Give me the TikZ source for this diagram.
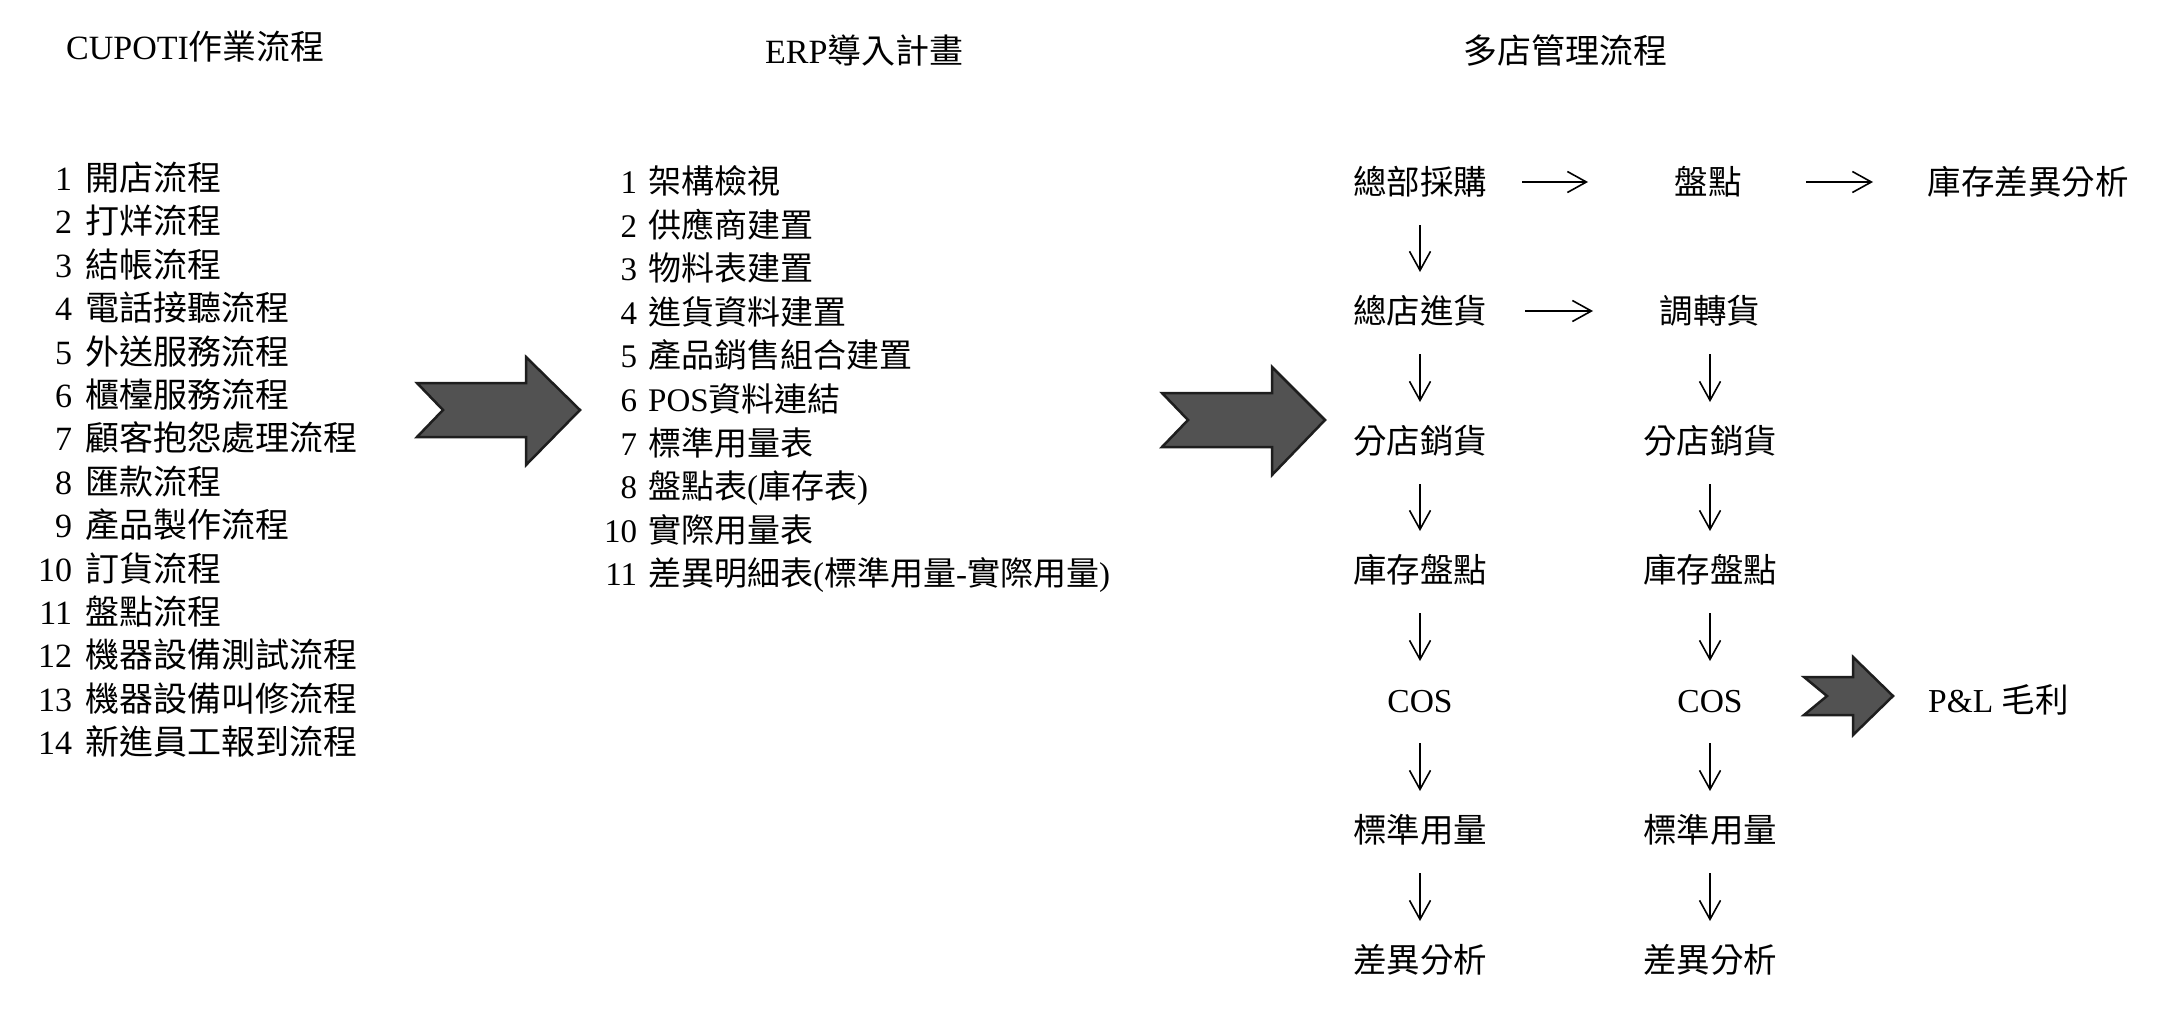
\documentclass[tikz,border=0pt]{standalone}
\usepackage{fontspec}
\setmainfont{Liberation Serif}
\newfontfamily\cj{Noto Sans CJK TC}
\usetikzlibrary{arrows.meta,calc}
\begin{document}
\begin{tikzpicture}[x=1pt,y=-1pt,
  txt/.style={inner sep=0pt, text height=30pt, text depth=5pt, font=\fontsize{34}{40}\selectfont},
  erp/.style={txt, anchor=west, font=\fontsize{33}{40}\selectfont},
  lst/.style={txt, anchor=west},
  rt/.style={txt, font=\fontsize{33.5}{40}\selectfont},
  arr/.style={line width=1.6pt, -{Straight Barb[length=19pt,width=21pt,line width=1.6pt]}},
  bigarrow/.style={draw={rgb,255:red,30;green,30;blue,30}, line width=2.5pt, line join=miter,
    fill={rgb,255:red,82;green,82;blue,82}}]
\fill[white] (0,0) rectangle (2160,1009);
\useasboundingbox (0,0) rectangle (2160,1009);

% headings
\node[txt, anchor=west] (h1) at (66,47) {CUPOTI{\cj 作業流程}};
\node[txt, anchor=west] (h2) at (765,51) {ERP{\cj 導入計畫}};
\node[txt, anchor=west] (h3) at (1463,51) {\cj 多店管理流程};

% left list
\node[lst] (L1)  at (85,178.0) {\llap{1\hspace{13pt}}{\cj 開店流程}};
\node[lst] (L2)  at (85,221.4) {\llap{2\hspace{13pt}}{\cj 打烊流程}};
\node[lst] (L3)  at (85,264.8) {\llap{3\hspace{13pt}}{\cj 結帳流程}};
\node[lst] (L4)  at (85,308.2) {\llap{4\hspace{13pt}}{\cj 電話接聽流程}};
\node[lst] (L5)  at (85,351.6) {\llap{5\hspace{13pt}}{\cj 外送服務流程}};
\node[lst] (L6)  at (85,395.0) {\llap{6\hspace{13pt}}{\cj 櫃檯服務流程}};
\node[lst] (L7)  at (85,438.4) {\llap{7\hspace{13pt}}{\cj 顧客抱怨處理流程}};
\node[lst] (L8)  at (85,481.8) {\llap{8\hspace{13pt}}{\cj 匯款流程}};
\node[lst] (L9)  at (85,525.2) {\llap{9\hspace{13pt}}{\cj 產品製作流程}};
\node[lst] (L10) at (85,568.6) {\llap{10\hspace{13pt}}{\cj 訂貨流程}};
\node[lst] (L11) at (85,612.0) {\llap{11\hspace{13pt}}{\cj 盤點流程}};
\node[lst] (L12) at (85,655.4) {\llap{12\hspace{13pt}}{\cj 機器設備測試流程}};
\node[lst] (L13) at (85,698.8) {\llap{13\hspace{13pt}}{\cj 機器設備叫修流程}};
\node[lst] (L14) at (85,742.2) {\llap{14\hspace{13pt}}{\cj 新進員工報到流程}};

% ERP list
\node[erp] (E1)  at (648,181.0) {\llap{1\hspace{11pt}}{\cj 架構檢視}};
\node[erp] (E2)  at (648,224.6) {\llap{2\hspace{11pt}}{\cj 供應商建置}};
\node[erp] (E3)  at (648,268.2) {\llap{3\hspace{11pt}}{\cj 物料表建置}};
\node[erp] (E4)  at (648,311.8) {\llap{4\hspace{11pt}}{\cj 進貨資料建置}};
\node[erp] (E5)  at (648,355.4) {\llap{5\hspace{11pt}}{\cj 產品銷售組合建置}};
\node[erp] (E6)  at (648,399.0) {\llap{6\hspace{11pt}}POS{\cj 資料連結}};
\node[erp] (E7)  at (648,442.6) {\llap{7\hspace{11pt}}{\cj 標準用量表}};
\node[erp] (E8)  at (648,486.2) {\llap{8\hspace{11pt}}{\cj 盤點表}({\cj 庫存表})};
\node[erp] (E10) at (648,529.8) {\llap{10\hspace{11pt}}{\cj 實際用量表}};
\node[erp] (E11) at (648,573.4) {\llap{11\hspace{11pt}}{\cj 差異明細表}({\cj 標準用量}-{\cj 實際用量})};

% big arrows
\draw[bigarrow] (417,383) -- (526,383) -- (526,357) -- (580,410) -- (526,465) -- (526,437) -- (417,437) -- (443,410) -- cycle;
\draw[bigarrow] (1162,393) -- (1272,393) -- (1272,367) -- (1325,420) -- (1272,475) -- (1272,447) -- (1162,447) -- (1188,420) -- cycle;
\draw[bigarrow] (1804,677) -- (1853,677) -- (1853,657) -- (1893,696) -- (1853,735) -- (1853,715) -- (1804,715) -- (1827,696) -- cycle;

% multi-store flow
\node[rt] (hq) at (1420,182) {\cj 總部採購};
\node[rt] (pd) at (1708,182) {\cj 盤點};
\node[rt] (kc) at (2028,182) {\cj 庫存差異分析};
\node[rt] (zd) at (1420,311) {\cj 總店進貨};
\node[rt] (dz) at (1710,311) {\cj 調轉貨};
\node[rt] (fa) at (1420,441) {\cj 分店銷貨};
\node[rt] (fb) at (1710,441) {\cj 分店銷貨};
\node[rt] (ka) at (1420,570) {\cj 庫存盤點};
\node[rt] (kb) at (1710,570) {\cj 庫存盤點};
\node[rt] (ca) at (1420,700) {COS};
\node[rt] (cb) at (1710,700) {COS};
\node[rt] (sa) at (1420,830) {\cj 標準用量};
\node[rt] (sb) at (1710,830) {\cj 標準用量};
\node[rt] (da) at (1420,960) {\cj 差異分析};
\node[rt] (db) at (1710,960) {\cj 差異分析};
\node[rt, anchor=west] (pl) at (1928,700) {P\&L {\cj 毛利}};

% horizontal arrows
\draw[arr] ($(hq.center)+(102,0)$) -- ($(pd.center)+(-120,0)$);
\draw[arr] ($(pd.center)+(98,0)$) -- ($(kc.center)+(-155,0)$);
\draw[arr] ($(zd.center)+(105,0)$) -- ($(dz.center)+(-117,0)$);

% vertical arrows
\foreach \a/\b in {hq/zd, zd/fa, fa/ka, ka/ca, ca/sa, sa/da, dz/fb, fb/kb, kb/cb, cb/sb, sb/db}
  \draw[arr] ($(\a.center)+(0,43)$) -- ($(\b.center)+(0,-39)$);
\end{tikzpicture}
\end{document}
